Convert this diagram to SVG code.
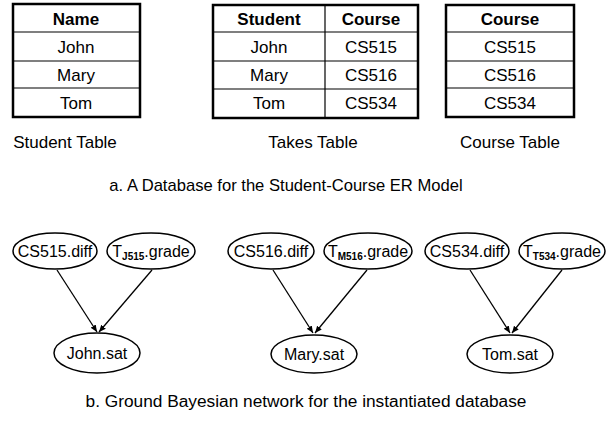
<svg xmlns="http://www.w3.org/2000/svg" width="606" height="421" viewBox="0 0 606 421">
<defs>
<style>
.t{font-family:"Liberation Sans",Arial,sans-serif;font-size:17px;fill:#000;text-anchor:middle}
.h{font-weight:bold}
.n{font-family:"Liberation Sans",Arial,sans-serif;font-size:16px;fill:#000;text-anchor:middle}
.sub{font-size:10px;font-weight:bold}
.box{fill:#fff;stroke:#000;stroke-width:2.5}
.ln{stroke:#000;stroke-width:1.2}
.el{fill:#fff;stroke:#000;stroke-width:1.5}
.e{stroke:#000;stroke-width:1.3;fill:none;marker-end:url(#ah)}
</style>
<marker id="ah" markerWidth="8" markerHeight="8" refX="7" refY="4" orient="auto" markerUnits="userSpaceOnUse">
<path d="M0,1 L7,4 L0,7 Z" fill="#000"/>
</marker>
</defs>
<rect width="606" height="421" fill="#fff"/>

<g id="student-table">
<rect class="box" x="13" y="4" width="127" height="113"/>
<line class="ln" x1="13" y1="32" x2="140" y2="32"/>
<line class="ln" x1="13" y1="61" x2="140" y2="61"/>
<line class="ln" x1="13" y1="88" x2="140" y2="88"/>
<text class="t h" x="76" y="25">Name</text>
<text class="t" x="76" y="53">John</text>
<text class="t" x="76" y="81">Mary</text>
<text class="t" x="76" y="109">Tom</text>
<text class="t" x="65" y="148">Student Table</text>
</g>

<g id="takes-table">
<rect class="box" x="213" y="5" width="205" height="113"/>
<line class="ln" x1="325" y1="5" x2="325" y2="118"/>
<line class="ln" x1="213" y1="32" x2="418" y2="32"/>
<line class="ln" x1="213" y1="61" x2="418" y2="61"/>
<line class="ln" x1="213" y1="89" x2="418" y2="89"/>
<text class="t h" x="269" y="25">Student</text>
<text class="t h" x="371" y="25">Course</text>
<text class="t" x="269" y="53">John</text>
<text class="t" x="371" y="53">CS515</text>
<text class="t" x="269" y="81">Mary</text>
<text class="t" x="371" y="81">CS516</text>
<text class="t" x="269" y="109">Tom</text>
<text class="t" x="371" y="109">CS534</text>
<text class="t" x="313" y="148">Takes Table</text>
</g>

<g id="course-table">
<rect class="box" x="446" y="5" width="128" height="112"/>
<line class="ln" x1="446" y1="32" x2="574" y2="32"/>
<line class="ln" x1="446" y1="61" x2="574" y2="61"/>
<line class="ln" x1="446" y1="88" x2="574" y2="88"/>
<text class="t h" x="510" y="25">Course</text>
<text class="t" x="510" y="53">CS515</text>
<text class="t" x="510" y="81">CS516</text>
<text class="t" x="510" y="109">CS534</text>
<text class="t" x="510" y="148">Course Table</text>
</g>

<text class="t" x="286" y="191" style="font-size:16.6px">a. A Database for the Student-Course ER Model</text>

<g id="connectors">
<line class="e" x1="57" y1="270" x2="97" y2="332"/>
<line class="e" x1="152" y1="270" x2="99" y2="332"/>
<line class="e" x1="273" y1="270" x2="313" y2="333"/>
<line class="e" x1="367" y1="270" x2="315" y2="333"/>
<line class="e" x1="470" y1="270" x2="510" y2="333"/>
<line class="e" x1="562" y1="270" x2="512" y2="333"/>
</g>

<g id="cs515-diff">
<ellipse class="el" cx="55" cy="251" rx="42" ry="18"/>
<text class="n" x="55" y="257">CS515.diff</text>
</g>
<g id="tj515-grade">
<ellipse class="el" cx="151" cy="251" rx="44" ry="18"/>
<text class="n" x="151" y="257">T<tspan class="sub" dy="3">J515</tspan><tspan dy="-3">.grade</tspan></text>
</g>
<g id="john-sat">
<ellipse class="el" cx="97" cy="353" rx="43" ry="20"/>
<text class="n" x="97" y="359">John.sat</text>
</g>

<g id="cs516-diff">
<ellipse class="el" cx="271" cy="251" rx="43" ry="18"/>
<text class="n" x="271" y="257">CS516.diff</text>
</g>
<g id="tm516-grade">
<ellipse class="el" cx="368" cy="251" rx="44" ry="18"/>
<text class="n" x="368" y="257">T<tspan class="sub" dy="3">M516</tspan><tspan dy="-3">.grade</tspan></text>
</g>
<g id="mary-sat">
<ellipse class="el" cx="314" cy="354" rx="43" ry="19"/>
<text class="n" x="314" y="360">Mary.sat</text>
</g>

<g id="cs534-diff">
<ellipse class="el" cx="467" cy="251" rx="42" ry="18"/>
<text class="n" x="467" y="257">CS534.diff</text>
</g>
<g id="tt534-grade">
<ellipse class="el" cx="562" cy="251" rx="43" ry="18"/>
<text class="n" x="562" y="257">T<tspan class="sub" dy="3">T534</tspan><tspan dy="-3">.grade</tspan></text>
</g>
<g id="tom-sat">
<ellipse class="el" cx="510" cy="354" rx="43" ry="19"/>
<text class="n" x="510" y="360">Tom.sat</text>
</g>

<text class="t" x="306" y="407" style="font-size:17.3px">b. Ground Bayesian network for the instantiated database</text>
</svg>
